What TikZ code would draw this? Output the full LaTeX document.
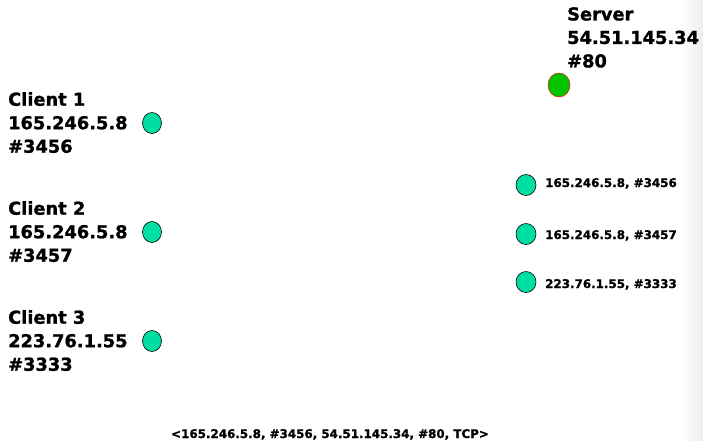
\documentclass[tikz,border=0pt]{standalone}
\usepackage{fontspec}
\setmainfont{DejaVu Sans}
\newfontfamily\heavyfont[BoldFeatures={FakeBold=1.2}]{DejaVu Sans}
\usetikzlibrary{shapes.geometric}
\definecolor{teal1}{RGB}{0,222,164}
\definecolor{srvgreen}{RGB}{0,196,0}
\definecolor{srvred}{RGB}{220,40,20}
\begin{document}
\begin{tikzpicture}[x=1pt,y=-1pt,
  host/.style={draw=black,fill=teal1,ellipse,minimum width=19pt,minimum height=21pt,inner sep=0pt,line width=0.6pt},
  big/.style={font=\heavyfont\bfseries\fontsize{17.8}{23.5}\selectfont,align=left,anchor=north west,inner sep=0pt},
  small/.style={font=\heavyfont\bfseries\fontsize{11.9}{13}\selectfont,anchor=base west,inner sep=0pt}]
\useasboundingbox (0,0) rectangle (703,440);
\shade[left color=white,right color=black!7] (680,0) rectangle (703,440);
\node[big] (srvlbl) at (567,7) {Server\\54.51.145.34\\\#80};
\node[draw=srvred,fill=srvgreen,ellipse,minimum width=22pt,minimum height=24pt,inner sep=0pt,line width=0.6pt] (srv) at (559,85) {};
\node[big] (c1lbl) at (8,92) {Client 1\\165.246.5.8\\\#3456};
\node[big] (c2lbl) at (8,201) {Client 2\\165.246.5.8\\\#3457};
\node[big] (c3lbl) at (8,310) {Client 3\\223.76.1.55\\\#3333};
\node[host] (c1) at (152,123) {};
\node[host] (c2) at (152,232) {};
\node[host] (c3) at (152,341) {};
\node[host,minimum width=20pt] (s1) at (526,185) {};
\node[host,minimum width=20pt] (s2) at (526,234) {};
\node[host,minimum width=20pt] (s3) at (526,282) {};
\node[small] (s1lbl) at (545,187) {165.246.5.8, \#3456};
\node[small] (s2lbl) at (545,239) {165.246.5.8, \#3457};
\node[small] (s3lbl) at (545,288) {223.76.1.55, \#3333};
\node[small,anchor=base] (tuple) at (330,438) {<165.246.5.8, \#3456, 54.51.145.34, \#80, TCP>};
\end{tikzpicture}
\end{document}
